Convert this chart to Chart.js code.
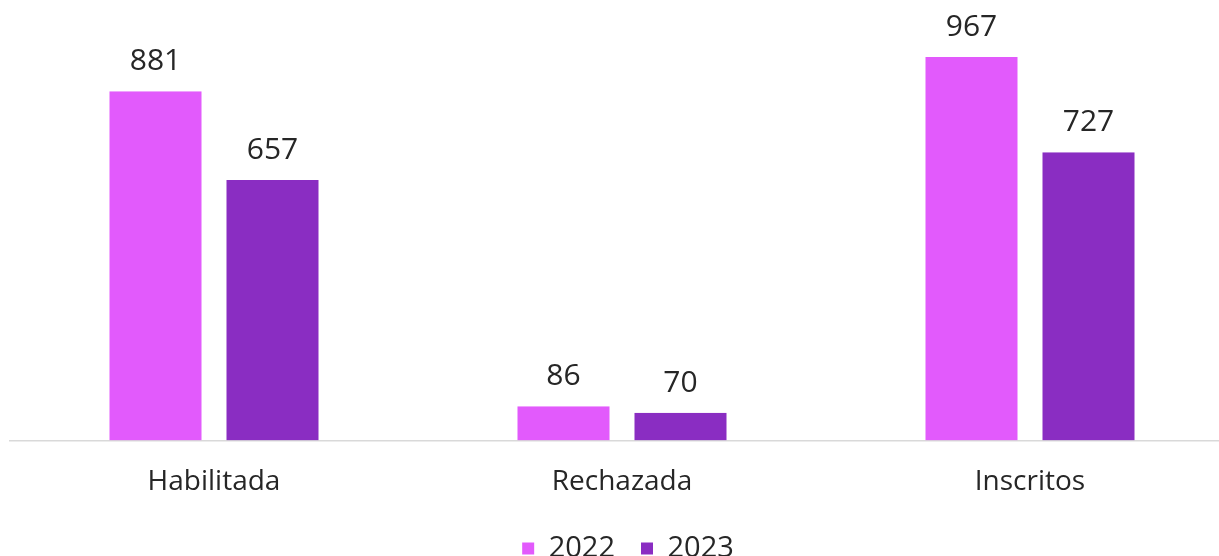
<!DOCTYPE html>
<html>
<head>
<meta charset="utf-8">
<script src="https://cdn.jsdelivr.net/npm/chart.js@4/dist/chart.umd.min.js"></script>
<style>
  html, body { margin: 0; padding: 0; background: #ffffff; overflow: hidden; }
  #wrap { position: absolute; left: 0; top: 0; width: 1234px; height: 573px; }
</style>
</head>
<body>
<div id="wrap"><canvas id="c"></canvas></div>
<script>
const categories = ["Habilitada", "Rechazada", "Inscritos"];
const seriesNames = ["2022", "2023"];
const values2022 = [881, 86, 967];
const values2023 = [657, 70, 727];

const colors = ["#E25AFC", "#8A2DC2"];
const FONT = "'Open Sans', 'Noto Sans', sans-serif";
const TEXT = "#262626";

const valueLabels = {
  id: "valueLabels",
  afterDatasetsDraw(chart) {
    const ctx = chart.ctx;
    ctx.save();
    ctx.font = "30px " + FONT;
    ctx.fillStyle = TEXT;
    ctx.textAlign = "center";
    ctx.textBaseline = "alphabetic";
    chart.data.datasets.forEach((ds, i) => {
      const meta = chart.getDatasetMeta(i);
      meta.data.forEach((el, j) => {
        ctx.fillText(String(ds.data[j]), el.x, el.y - 21);
      });
    });
    ctx.restore();
  }
};

const legendShift = {
  id: "legendShift",
  afterLayout(chart) {
    if (chart.legend) {
      chart.legend.left += 6;
      chart.legend.right += 6;
    }
  }
};

const barStyle = {
  borderColor: "rgba(0,0,0,0)",
  borderWidth: { left: 12.5, right: 12.5, top: 0, bottom: 0 },
  borderSkipped: false,
  categoryPercentage: 234 / 408,
  barPercentage: 1
};

new Chart(document.getElementById("c"), {
  type: "bar",
  data: {
    labels: categories,
    datasets: [
      Object.assign({ label: seriesNames[0], data: values2022, backgroundColor: colors[0] }, barStyle),
      Object.assign({ label: seriesNames[1], data: values2023, backgroundColor: colors[1] }, barStyle)
    ]
  },
  options: {
    responsive: true,
    maintainAspectRatio: false,
    animation: false,
    layout: { padding: { left: 10, right: 0, top: 44, bottom: 0 } },
    plugins: {
      legend: {
        position: "bottom",
        labels: {
          boxWidth: 12,
          boxHeight: 12,
          padding: 26,
          color: TEXT,
          font: { family: FONT, size: 29 }
        }
      },
      tooltip: { enabled: false }
    },
    scales: {
      x: {
        grid: { display: false, drawTicks: false },
        border: { display: true, color: "#d9d9d9", width: 1.5 },
        ticks: { color: TEXT, font: { family: FONT, size: 28 }, padding: 25 },
        afterFit(scale) { scale.height = scale.height - 16; }
      },
      y: {
        display: false,
        min: 0,
        max: 1000
      }
    }
  },
  plugins: [valueLabels, legendShift]
});
</script>
</body>
</html>
